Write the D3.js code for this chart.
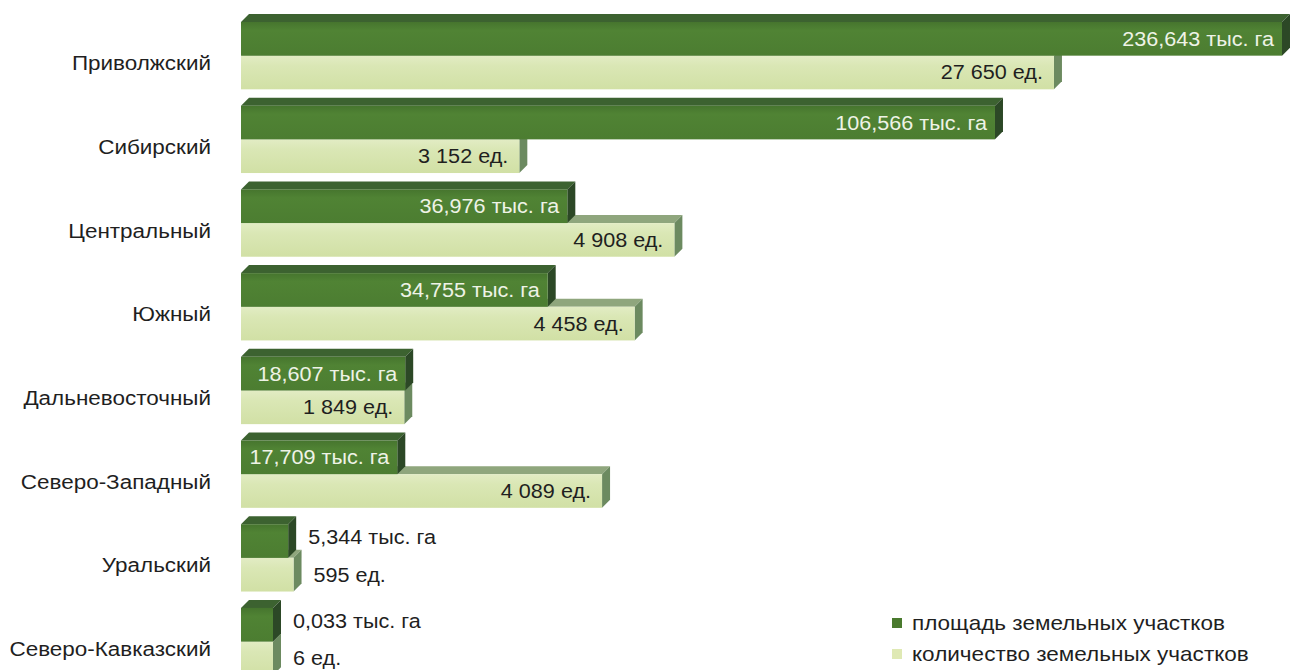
<!DOCTYPE html>
<html><head><meta charset="utf-8">
<script src="https://cdn.jsdelivr.net/npm/d3@7/dist/d3.min.js"></script>
<style>html,body{margin:0;padding:0;background:#fff;}svg{display:block;}</style>
</head><body>
<svg id="chart" width="1291" height="670"></svg>
<script>
// ---- data ----
const categories = ["Приволжский","Сибирский","Центральный","Южный","Дальневосточный","Северо-Западный","Уральский","Северо-Кавказский"];
const areaValues = [236.643, 106.566, 36.976, 34.755, 18.607, 17.709, 5.344, 0.033];   // тыс. га
const countValues = [27650, 3152, 4908, 4458, 1849, 4089, 595, 6];                      // ед.
const areaUnit = "тыс. га";
const countUnit = "ед.";
const seriesNames = ["площадь земельных участков", "количество земельных участков"];

// ---- setup ----
const svg = d3.select("#chart");
const FONT = "'Liberation Sans', Arial, sans-serif";
const ru = d3.formatLocale({decimal: ",", thousands: "\u00a0", grouping: [3], currency: ["", ""]});
const fmtArea = ru.format(",.3f");
const fmtCount = ru.format(",d");

const x0 = 241, depth = 8, minLen = 32, pad = 11;
const cat = d3.scaleBand().domain(categories).range([14, 14 + 83.7 * 7.9]).paddingInner(0.1).paddingOuter(0);
const bw = cat.bandwidth();
const h = (bw - depth) / 2;

// broken (piecewise) scales: long bars are compressed
const xArea = d3.scaleLinear().domain([0, 40, 100, 240]).range([0, 353, 739.5, 1048.4]);
const xCount = d3.scaleLinear().domain([0, 5000, 30000]).range([0, 441.5, 851.5]);

const defs = svg.append("defs");
function grad(id, stops) {
  const g = defs.append("linearGradient").attr("id", id).attr("x1", 0).attr("y1", 0).attr("x2", 0).attr("y2", 1);
  stops.forEach(s => g.append("stop").attr("offset", s[0]).attr("stop-color", s[1]));
}
grad("gDark", [[0, "#46752e"], [0.25, "#508334"], [1, "#4c7d31"]]);
grad("gLight", [[0, "#e2ecc4"], [0.3, "#dae7b5"], [1, "#d1e0a5"]]);

const darkCols = {front: "url(#gDark)", top: "#3c6230", side: "#2c4826"};
const lightCols = {front: "url(#gLight)", top: "#8fa67d", side: "#6c8a60"};

function box(g, y0, len, cols) {
  const d = depth;
  g.append("polygon").attr("fill", cols.top)
    .attr("points", [[x0, y0], [x0 + d, y0 - d], [x0 + len + d, y0 - d], [x0 + len, y0]].join(" "));
  g.append("polygon").attr("fill", cols.side)
    .attr("points", [[x0 + len, y0], [x0 + len + d, y0 - d], [x0 + len + d, y0 + h - d], [x0 + len, y0 + h]].join(" "));
  g.append("rect").attr("x", x0).attr("y", y0).attr("width", len).attr("height", h).attr("fill", cols.front);
}

const SX = 1.12;
function label(g, x, y, txt, anchor, fill, size, sx) {
  return g.append("text")
    .attr("transform", `translate(${x},${y}) scale(${sx},1)`)
    .attr("text-anchor", anchor).attr("fill", fill)
    .style("font-family", FONT).style("font-size", size + "px")
    .text(txt);
}

categories.forEach((c, i) => {
  const g = svg.append("g");
  const top = cat(c);
  const yDark = top + depth;
  const yLight = yDark + h;
  const lenA = Math.max(minLen, xArea(areaValues[i]));
  const lenC = Math.max(minLen, xCount(countValues[i]));
  box(g, yLight, lenC, lightCols);
  box(g, yDark, lenA, darkCols);

  // category label
  label(g, 211, yLight + 14.5, c, "end", "#1f1f1f", 21, 1.07);

  // value labels
  const tA = fmtArea(areaValues[i]) + " " + areaUnit;
  const tC = fmtCount(countValues[i]) + " " + countUnit;
  const la = label(g, 0, 0, tA, "end", "#eef3e6", 19.3, SX);
  const wA = la.node().getComputedTextLength() * SX;
  if (wA + pad + 2 <= lenA) {
    la.attr("transform", `translate(${x0 + lenA - pad + 3},${yDark + h / 2 + 7}) scale(${SX},1)`);
  } else {
    la.attr("text-anchor", "start").attr("fill", "#1f1f1f")
      .attr("transform", `translate(${x0 + lenA + depth + 12},${yDark + h / 2 + 3}) scale(${SX},1)`);
  }
  const lc = label(g, 0, 0, tC, "end", "#1f1f1f", 19.3, SX);
  const wC = lc.node().getComputedTextLength() * SX;
  if (wC + pad + 2 <= lenC) {
    lc.attr("transform", `translate(${x0 + lenC - pad},${yLight + h / 2 + 7}) scale(${SX},1)`);
  } else {
    lc.attr("text-anchor", "start")
      .attr("transform", `translate(${x0 + lenC + depth + 12},${yLight + h / 2 + 7}) scale(${SX},1)`);
  }
});

// legend
const legendCols = ["#4a7a2e", "#dfe9b4"];
const lg = svg.append("g");
seriesNames.forEach((s, i) => {
  const y = 618 + i * 31;
  lg.append("rect").attr("x", 892).attr("y", y).attr("width", 10).attr("height", 10).attr("fill", legendCols[i]);
  label(lg, 912, y + 11.5, s, "start", "#1f1f1f", 20.3, 1.11);
});
</script>
</body></html>
